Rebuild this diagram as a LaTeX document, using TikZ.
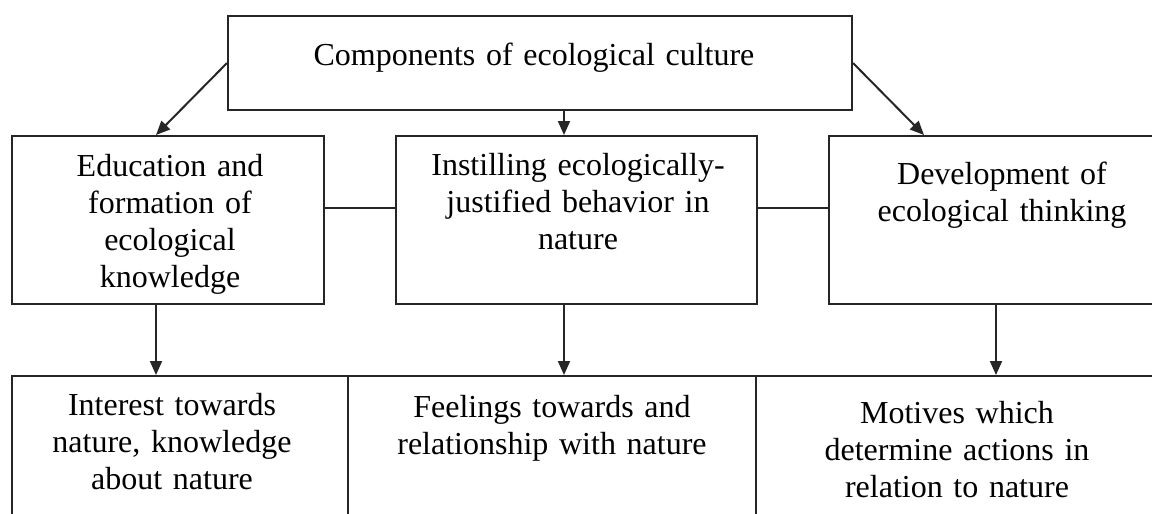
\documentclass[tikz,border=0pt]{standalone}
\usepackage{fontspec}
\setmainfont{Liberation Serif}
\usetikzlibrary{arrows.meta,calc}
\begin{document}
\begin{tikzpicture}[x=0.5pt,y=-0.5pt,
  box/.style={draw=black!85,line width=1pt,rectangle,inner sep=0pt},
  txt/.style={inner sep=0pt,anchor=base,text width=200pt,align=center,font=\fontsize{16}{18.6}\selectfont},
  link/.style={draw=black!85,line width=1pt},
  arr/.style={link,-{Triangle[length=7pt,width=6pt]}}]
\useasboundingbox (0,0) rectangle (1152,514);
\clip (0,0) rectangle (1152,514);
% boxes
\node[box,minimum width=312pt,minimum height=47pt] (top) at (540,63) {};
\node[box,minimum width=156pt,minimum height=84pt] (L) at (168,220) {};
\node[box,minimum width=180.5pt,minimum height=84pt] (M) at (576.5,220) {};
\node[box,minimum width=175.5pt,minimum height=84pt] (R) at (1004.5,220) {};
\node[box,minimum width=168pt,minimum height=82pt] (BL) at (180,458) {};
\node[box,minimum width=204pt,minimum height=82pt] (BM) at (552,458) {};
\node[box,minimum width=212pt,minimum height=82pt] (BR) at (968,458) {};
% texts
\node[txt,text width=300pt] (ttop) at (534,65) {Components of ecological culture};
\node[txt] (tL) at (170,176) {Education and\\formation of\\ecological\\knowledge};
\node[txt] (tM) at (578,175) {Instilling ecologically-\\justified behavior in\\nature};
\node[txt] (tR) at (1002,184) {Development of\\ecological thinking};
\node[txt] (tBL) at (172,415) {Interest towards\\nature, knowledge\\about nature};
\node[txt] (tBM) at (552,417) {Feelings towards and\\relationship with nature};
\node[txt] (tBR) at (957,423) {Motives which\\determine actions in\\relation to nature};
% arrows from top
\draw[arr] (top.west) -- ([xshift=-6pt]L.north);
\draw[arr] ([xshift=12pt]top.south) -- ([xshift=12pt]top.south |- M.north);
\draw[arr] (top.east) -- ([xshift=48pt]R.north west);
% horizontal links
\draw[link] ([yshift=6pt]L.east) -- ([yshift=6pt]L.east -| M.west);
\draw[link] ([yshift=6pt]M.east) -- ([yshift=6pt]M.east -| R.west);
% arrows down
\draw[arr] ([xshift=-6pt]L.south) -- ([xshift=-6pt]L.south |- BL.north);
\draw[arr] ([xshift=-6.25pt]M.south) -- ([xshift=-6.25pt]M.south |- BM.north);
\draw[arr] ([xshift=-4.25pt]R.south) -- ([xshift=-4.25pt]R.south |- BR.north);
\end{tikzpicture}
\end{document}
